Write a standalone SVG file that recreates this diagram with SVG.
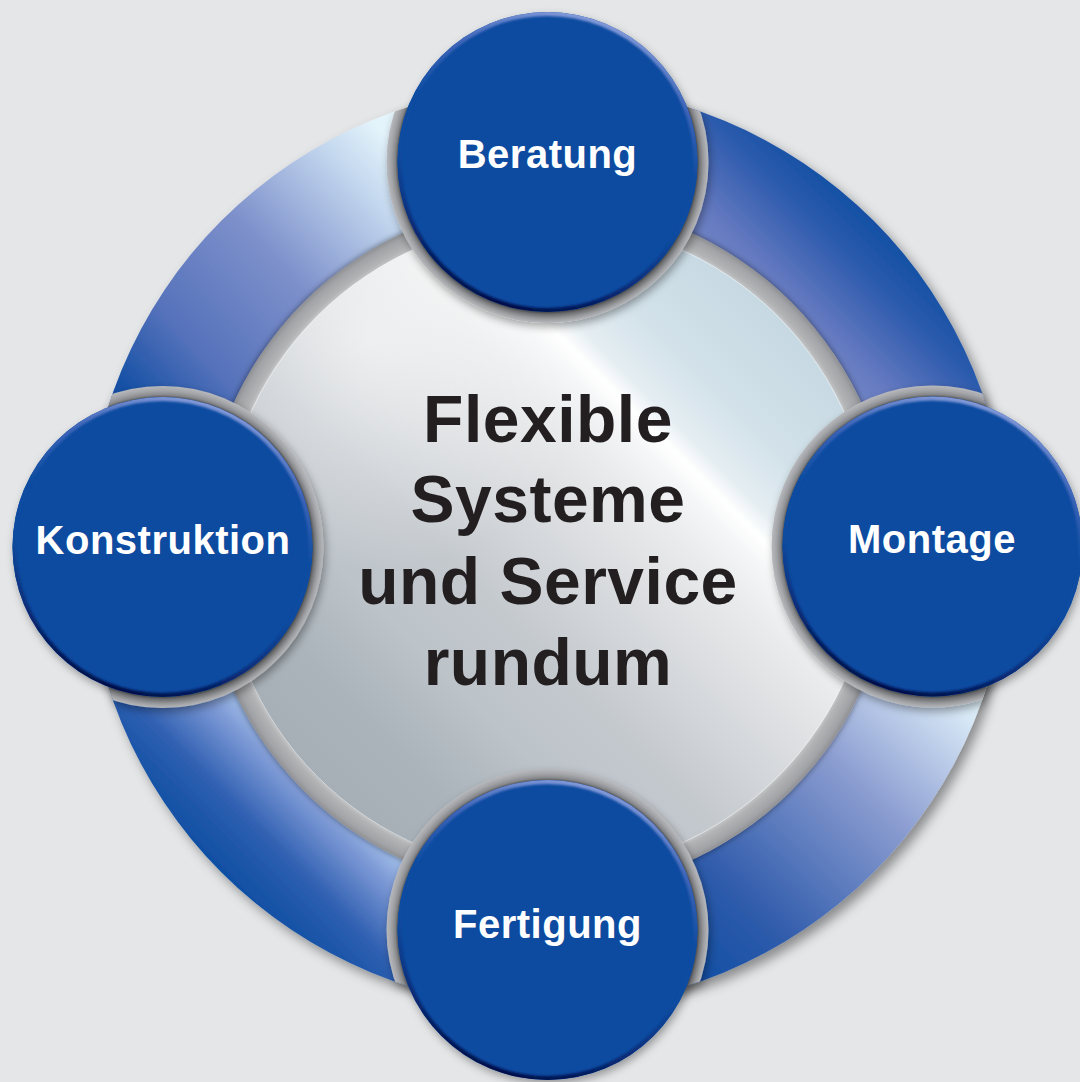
<svg xmlns="http://www.w3.org/2000/svg" width="1080" height="1082" viewBox="0 0 1080 1082">
<style>
.lbl{font-family:"Liberation Sans",Arial,Helvetica,sans-serif;font-weight:bold;font-size:40px;fill:#ffffff;text-anchor:middle;letter-spacing:0.5px}
.ctr{font-family:"Liberation Sans",Arial,Helvetica,sans-serif;font-weight:bold;font-size:66px;fill:#231f20;text-anchor:middle;letter-spacing:0.5px}
.band{fill:url(#bandG)}
.disc{fill:#0c4ca0}
.bevel{fill:none;stroke:url(#bevelG);stroke-width:8;clip-path:url(#cbb);filter:url(#blur1)}
</style>
<defs>
<linearGradient id="gTL" gradientUnits="userSpaceOnUse" x1="130" y1="400" x2="400" y2="150">
<stop offset="0" stop-color="#124fa4"/><stop offset="0.23" stop-color="#5672bb"/><stop offset="0.55" stop-color="#7d90cb"/><stop offset="0.85" stop-color="#c2d6ee"/><stop offset="1" stop-color="#e4f4fb"/>
</linearGradient>
<linearGradient id="gTR" gradientUnits="userSpaceOnUse" x1="873" y1="220" x2="770" y2="323">
<stop offset="0" stop-color="#1350a4"/><stop offset="0.3" stop-color="#2d5bad"/><stop offset="0.75" stop-color="#6479c0"/><stop offset="1" stop-color="#7488c8"/>
</linearGradient>
<linearGradient id="gBL" gradientUnits="userSpaceOnUse" x1="221" y1="872" x2="320" y2="774">
<stop offset="0" stop-color="#0f4fa3"/><stop offset="0.4" stop-color="#2f5fb1"/><stop offset="0.8" stop-color="#7e9ad6"/><stop offset="1" stop-color="#a7c4ec"/>
</linearGradient>
<linearGradient id="gBR" gradientUnits="userSpaceOnUse" x1="700" y1="980" x2="970" y2="700">
<stop offset="0" stop-color="#124fa4"/><stop offset="0.22" stop-color="#2f5bab"/><stop offset="0.64" stop-color="#8a9cd0"/><stop offset="0.82" stop-color="#b5c6e6"/><stop offset="1" stop-color="#dff0f9"/>
</linearGradient>
<linearGradient id="silverG" gradientUnits="userSpaceOnUse" x1="317" y1="777" x2="778" y2="316">
<stop offset="0" stop-color="#a6afb6"/><stop offset="0.12" stop-color="#abb4bb"/><stop offset="0.25" stop-color="#bcc3c9"/><stop offset="0.38" stop-color="#c4c9ce"/><stop offset="0.45" stop-color="#ced2d6"/><stop offset="0.55" stop-color="#dcdee1"/><stop offset="0.65" stop-color="#eaebec"/><stop offset="0.71" stop-color="#f5f6f7"/><stop offset="0.74" stop-color="#ffffff"/><stop offset="0.775" stop-color="#e4edf2"/><stop offset="0.85" stop-color="#d3e2ea"/><stop offset="1" stop-color="#c6d8e2"/>
</linearGradient>
<radialGradient id="hiG" gradientUnits="userSpaceOnUse" cx="370" cy="340" r="230">
<stop offset="0" stop-color="#ffffff" stop-opacity="0.55"/><stop offset="1" stop-color="#ffffff" stop-opacity="0"/>
</radialGradient>
<radialGradient id="frameG">
<stop offset="0.94" stop-color="#c9cacc"/><stop offset="0.955" stop-color="#b3b4b6"/><stop offset="0.985" stop-color="#a2a3a6"/><stop offset="1" stop-color="#8f9093"/>
</radialGradient>
<radialGradient id="bandG">
<stop offset="0.93" stop-color="#5e5f63"/><stop offset="0.945" stop-color="#8a8b8e"/><stop offset="0.97" stop-color="#a3a4a7"/><stop offset="1" stop-color="#b8b9bc"/>
</radialGradient>
<linearGradient id="bevelG" x1="0.65" y1="0" x2="0.35" y2="1">
<stop offset="0" stop-color="#8a9fdc"/><stop offset="0.22" stop-color="#3d64b8"/><stop offset="0.42" stop-color="#0c4ca0"/><stop offset="0.6" stop-color="#0c4ca0"/><stop offset="0.8" stop-color="#082e7a"/><stop offset="1" stop-color="#040c45"/>
</linearGradient>
<clipPath id="foot"><circle cx="547.5" cy="546.5" r="461"/></clipPath>
<clipPath id="cbb" clipPathUnits="objectBoundingBox"><circle cx="0.5" cy="0.5" r="0.5"/></clipPath>
<filter id="ringShadow" x="-10%" y="-10%" width="125%" height="125%"><feDropShadow dx="5" dy="6" stdDeviation="6" flood-color="#000" flood-opacity="0.4"/></filter>
<filter id="soft" x="-10%" y="-10%" width="120%" height="120%"><feDropShadow dx="0" dy="0" stdDeviation="3" flood-color="#000" flood-opacity="0.5"/></filter>
<filter id="nodeShadow" x="-15%" y="-15%" width="130%" height="130%"><feDropShadow dx="2" dy="4" stdDeviation="4" flood-color="#000" flood-opacity="0.35"/></filter>
<filter id="blur1" x="-5%" y="-5%" width="110%" height="110%"><feGaussianBlur stdDeviation="1.2"/></filter>
</defs>
<rect x="0" y="0" width="1080" height="1082" fill="#e5e6e8"/>
<g id="ring" filter="url(#ringShadow)">
<path d="M86.5,546.5 A461,461 0 0 1 547.5,85.5 L547.5,201.5 A345,345 0 0 0 202.5,546.5 Z" fill="url(#gTL)"/>
<path d="M547.5,85.5 A461,461 0 0 1 1008.5,546.5 L892.5,546.5 A345,345 0 0 0 547.5,201.5 Z" fill="url(#gTR)"/>
<path d="M1008.5,546.5 A461,461 0 0 1 547.5,1007.5 L547.5,891.5 A345,345 0 0 0 892.5,546.5 Z" fill="url(#gBR)"/>
<path d="M547.5,1007.5 A461,461 0 0 1 86.5,546.5 L202.5,546.5 A345,345 0 0 0 547.5,891.5 Z" fill="url(#gBL)"/>
</g>
<g id="center">
<circle cx="547.5" cy="546.5" r="345" fill="url(#frameG)" filter="url(#soft)"/>
<circle cx="547.5" cy="546.5" r="326" fill="url(#silverG)"/>
<circle cx="547.5" cy="546.5" r="326" fill="url(#hiG)"/>
<circle cx="547.5" cy="546.5" r="325.5" fill="none" stroke="#f4f4f4" stroke-opacity="0.6" stroke-width="1"/>
<text class="ctr" x="548" y="442">Flexible</text>
<text class="ctr" x="548" y="522">Systeme</text>
<text class="ctr" x="548" y="604">und Service</text>
<text class="ctr" x="548" y="685">rundum</text>
</g>
<g id="connectors"></g>
<g id="node-beratung">
<g filter="url(#nodeShadow)"><circle class="band" cx="547.5" cy="162" r="161" clip-path="url(#foot)"/></g>
<circle class="disc" cx="547.5" cy="162" r="150" filter="url(#nodeShadow)"/>
<circle class="bevel" cx="547.5" cy="162" r="150"/>
<text class="lbl" x="547.5" y="168">Beratung</text>
</g>
<g id="node-konstruktion">
<g filter="url(#nodeShadow)"><circle class="band" cx="162.5" cy="547" r="161" clip-path="url(#foot)"/></g>
<circle class="disc" cx="162.5" cy="547" r="150" filter="url(#nodeShadow)"/>
<circle class="bevel" cx="162.5" cy="547" r="150"/>
<text class="lbl" x="163" y="554">Konstruktion</text>
</g>
<g id="node-montage">
<g filter="url(#nodeShadow)"><circle class="band" cx="932.5" cy="546.5" r="161" clip-path="url(#foot)"/></g>
<circle class="disc" cx="932.5" cy="546.5" r="150" filter="url(#nodeShadow)"/>
<circle class="bevel" cx="932.5" cy="546.5" r="150"/>
<text class="lbl" x="932" y="553">Montage</text>
</g>
<g id="node-fertigung">
<g filter="url(#nodeShadow)"><circle class="band" cx="547.5" cy="930" r="161" clip-path="url(#foot)"/></g>
<circle class="disc" cx="547.5" cy="930" r="150" filter="url(#nodeShadow)"/>
<circle class="bevel" cx="547.5" cy="930" r="150"/>
<text class="lbl" x="547.5" y="938">Fertigung</text>
</g>
</svg>
